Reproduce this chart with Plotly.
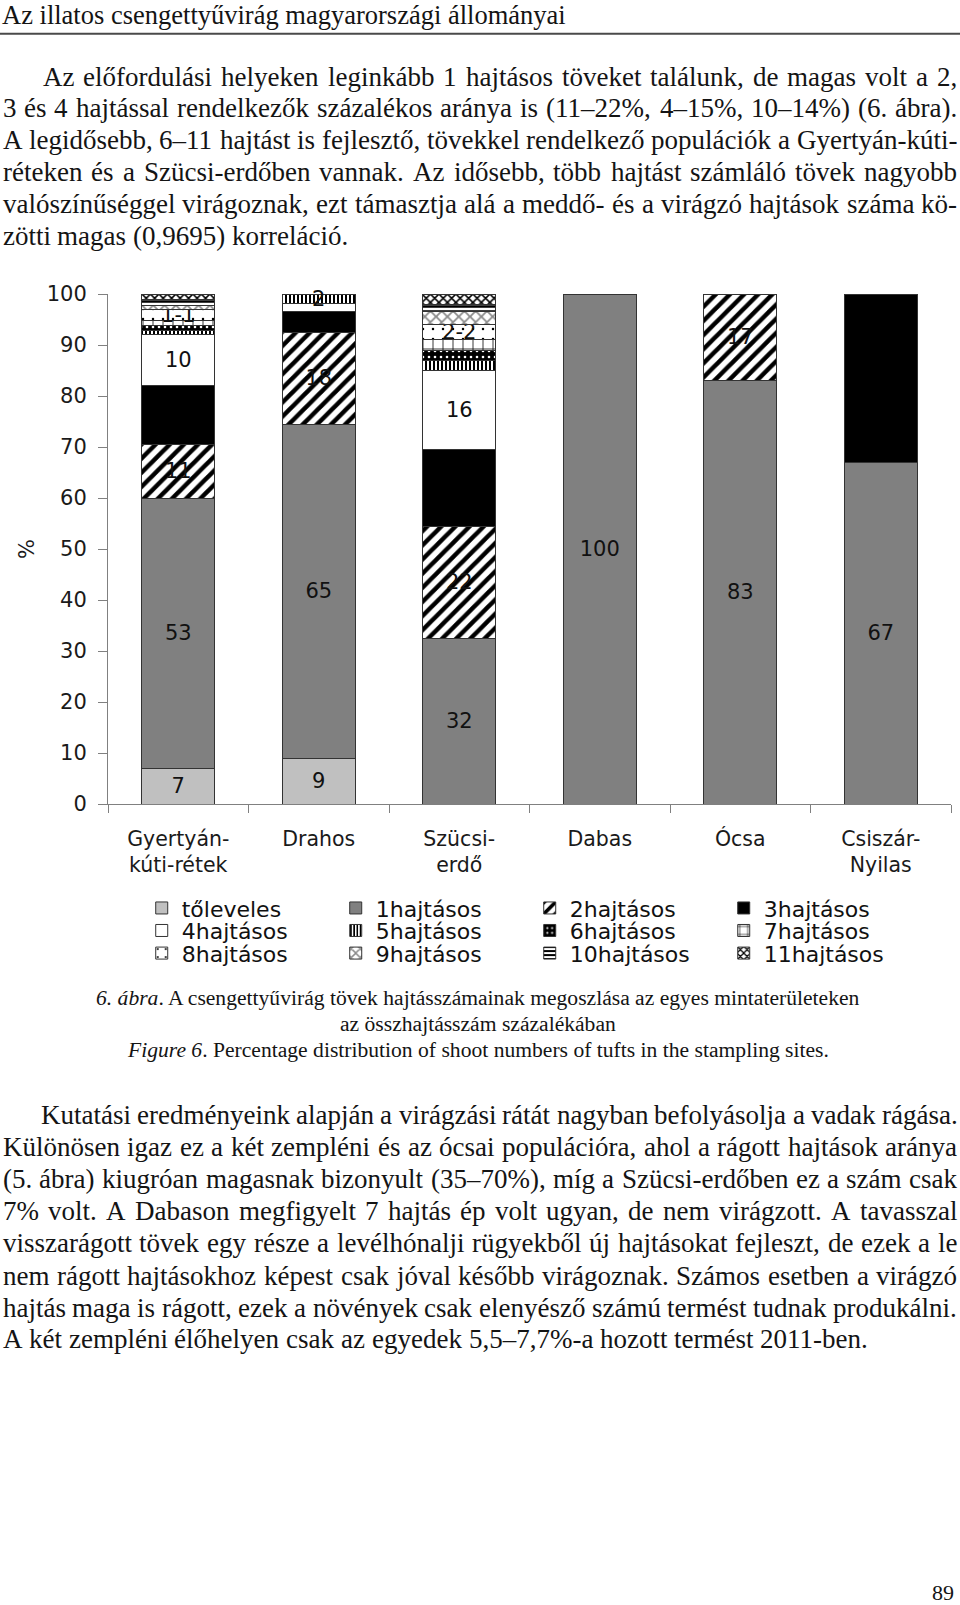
import unicodedata
import plotly.graph_objects as go

# ---------------- data ----------------
sites = ["Gyertyán-<br>kúti-rétek", "Drahos", "Szücsi-<br>erdő", "Dabas", "Ócsa", "Csiszár-<br>Nyilas"]

series_names = ["tőleveles", "1hajtásos", "2hajtásos", "3hajtásos", "4hajtásos", "5hajtásos",
                "6hajtásos", "7hajtásos", "8hajtásos", "9hajtásos", "10hajtásos", "11hajtásos"]

toleveles = [7,    9,    None, None, None, None]
hajtas_1  = [53,   65.5, 32.5, 100,  83,   67]
hajtas_2  = [10.5, 18,   22,   None, 17,   None]
hajtas_3  = [11.5, 4,    15,   None, None, 33]
hajtas_4  = [10,   1.6,  15.5, None, None, None]
hajtas_5  = [0.8,  1.9,  2,    None, None, None]
hajtas_6  = [1.1,  None, 2,    None, None, None]
hajtas_7  = [1.0,  None, 2,    None, None, None]
hajtas_8  = [2.1,  None, 3,    None, None, None]
hajtas_9  = [0.8,  None, 2.5,  None, None, None]
hajtas_10 = [1.2,  None, 1.5,  None, None, None]
hajtas_11 = [1.0,  None, 2,    None, None, None]

# data labels as printed on the chart
lab_tol = ["7", "9", "", "", "", ""]
lab_1   = ["53", "65", "32", "100", "83", "67"]
lab_2   = ["11", "18", "22", "", "17", ""]
lab_4   = ["10", "", "16", "", "", ""]
lab_5   = ["", "2", "", "", "", ""]
lab_8   = ["1-1", "", "2-2", "", "", ""]
lab_none = ["", "", "", "", "", ""]

y_ticks = [0, 10, 20, 30, 40, 50, 60, 70, 80, 90, 100]

values = [toleveles, hajtas_1, hajtas_2, hajtas_3, hajtas_4, hajtas_5,
          hajtas_6, hajtas_7, hajtas_8, hajtas_9, hajtas_10, hajtas_11]
labels = [lab_tol, lab_1, lab_2, lab_none, lab_4, lab_5,
          lab_none, lab_none, lab_8, lab_none, lab_none, lab_none]

# ---------------- texts ----------------
header = "Az illatos csengettyűvirág magyarországi állományai"
para1 = [
    "Az előfordulási helyeken leginkább 1 hajtásos töveket találunk, de magas volt a 2,",
    "3 és 4 hajtással rendelkezők százalékos aránya is (11–22%, 4–15%, 10–14%) (6. ábra).",
    "A legidősebb, 6–11 hajtást is fejlesztő, tövekkel rendelkező populációk a Gyertyán-kúti-",
    "réteken és a Szücsi-erdőben vannak. Az idősebb, több hajtást számláló tövek nagyobb",
    "valószínűséggel virágoznak, ezt támasztja alá a meddő- és a virágzó hajtások száma kö-",
    "zötti magas (0,9695) korreláció.",
]
para2 = [
    "Kutatási eredményeink alapján a virágzási rátát nagyban befolyásolja a vadak rágása.",
    "Különösen igaz ez a két zempléni és az ócsai populációra, ahol a rágott hajtások aránya",
    "(5. ábra) kiugróan magasnak bizonyult (35–70%), míg a Szücsi-erdőben ez a szám csak",
    "7% volt. A Dabason megfigyelt 7 hajtás ép volt ugyan, de nem virágzott. A tavasszal",
    "visszarágott tövek egy része a levélhónalji rügyekből új hajtásokat fejleszt, de ezek a le",
    "nem rágott hajtásokhoz képest csak jóval később virágoznak. Számos esetben a virágzó",
    "hajtás maga is rágott, ezek a növények csak elenyésző számú termést tudnak produkálni.",
    "A két zempléni élőhelyen csak az egyedek 5,5–7,7%-a hozott termést 2011-ben.",
]
caption = [
    "<i>6. ábra</i>. A csengettyűvirág tövek hajtásszámainak megoszlása az egyes mintaterületeken",
    "az összhajtásszám százalékában",
    "<i>Figure 6</i>. Percentage distribution of shoot numbers of tufts in the stampling sites.",
]

# ---------------- geometry (pixels) ----------------
W, H = 960, 1605
PL, PR, PT, PB = 108.3, 950.7, 294.0, 803.7

def px(x):
    return (x - PL) / (PR - PL)

def py(y):
    return (PB - y) / (PB - PT)

SERIF = "Liberation Serif, Times New Roman, serif"
SANS = "DejaVu Sans, Arial, sans-serif"
INK = "#141414"

# Times metrics (1/1000 em) for justification
_w = {}
_w.update(dict(zip("abcdefghijklmnopqrstuvwxyz",
                   [444, 500, 444, 500, 444, 333, 500, 500, 278, 278, 500, 278, 778,
                    500, 500, 500, 500, 333, 389, 278, 500, 500, 722, 500, 500, 444])))
_w.update(dict(zip("ABCDEFGHIJKLMNOPQRSTUVWXYZ",
                   [722, 667, 667, 722, 611, 556, 722, 722, 333, 389, 722, 611, 889,
                    722, 722, 556, 722, 667, 556, 611, 722, 722, 944, 722, 722, 611])))
_w.update({c: 500 for c in "0123456789"})
_w.update({" ": 250, ",": 250, ".": 250, "-": 333, "–": 500, "(": 333, ")": 333,
           "%": 833, ":": 278, ";": 278})

def tw(s, size):
    tot = 0
    for c in s:
        if c in _w:
            tot += _w[c]
        else:
            b = unicodedata.normalize("NFD", c)[0]
            tot += _w.get(b, 500)
    return tot / 1000.0 * size

annotations = []

def add_line(text, x0, x1, y, size, justify):
    words = text.split(" ")
    widths = [tw(w, size) for w in words]
    if justify and len(words) > 1:
        gap = (x1 - x0 - sum(widths)) / (len(words) - 1)
        gap = max(gap, 0.12 * size)
    else:
        gap = 0.25 * size
    x = x0
    for w, ww in zip(words, widths):
        annotations.append(dict(text=w, x=px(x), y=py(y), xref="paper", yref="paper",
                                xanchor="left", yanchor="middle", showarrow=False,
                                borderpad=0, borderwidth=0,
                                font=dict(family=SERIF, size=size, color=INK)))
        x += ww + gap

BODY = 27
# header
annotations.append(dict(text=header, x=px(2), y=py(0.5), xref="paper", yref="paper",
                        xanchor="left", yanchor="top", showarrow=False, borderpad=0,
                        borderwidth=0, font=dict(family=SERIF, size=26.5, color=INK)))
p1_y = [76.8, 108.5, 140.2, 172.0, 203.7, 236.0]
for i, (t, y) in enumerate(zip(para1, p1_y)):
    add_line(t, 43 if i == 0 else 3, 957, y, BODY, i < len(para1) - 1)
p2_y = [1114.6, 1146.3, 1178.0, 1210.8, 1242.5, 1275.3, 1307.0, 1338.7]
for i, (t, y) in enumerate(zip(para2, p2_y)):
    add_line(t, 41 if i == 0 else 3, 957, y, BODY, i < len(para2) - 1)

cap_y = [998.0, 1023.5, 1050.0]
for t, y in zip(caption, cap_y):
    annotations.append(dict(text=t, x=px(478), y=py(y), xref="paper", yref="paper",
                            xanchor="center", yanchor="middle", showarrow=False, borderpad=0,
                            borderwidth=0, font=dict(family=SERIF, size=21.6, color=INK)))
annotations.append(dict(text="89", x=px(942.5), y=py(1604.5), xref="paper", yref="paper",
                        xanchor="center", yanchor="bottom", showarrow=False, borderpad=0,
                        borderwidth=0, font=dict(family=SERIF, size=22, color=INK)))

# ---------------- styles ----------------
styles = [
    dict(color="#c0c0c0"),
    dict(color="#808080"),
    dict(pattern=dict(shape="/", fgcolor="#000000", bgcolor="#ffffff", size=10, solidity=0.45)),
    dict(color="#000000"),
    dict(color="#ffffff"),
    dict(pattern=dict(shape="|", fgcolor="#000000", bgcolor="#ffffff", size=4, solidity=0.5)),
    dict(pattern=dict(shape=".", fgcolor="#ffffff", bgcolor="#000000", size=6, solidity=0.15)),
    dict(pattern=dict(shape="+", fgcolor="#000000", bgcolor="#ffffff", size=10, solidity=0.15)),
    dict(pattern=dict(shape=".", fgcolor="#000000", bgcolor="#ffffff", size=10, solidity=0.05)),
    dict(pattern=dict(shape="x", fgcolor="#8a8a8a", bgcolor="#ffffff", size=8, solidity=0.4)),
    dict(pattern=dict(shape="-", fgcolor="#000000", bgcolor="#ffffff", size=5, solidity=0.5)),
    dict(pattern=dict(shape="x", fgcolor="#000000", bgcolor="#ffffff", size=6, solidity=0.45)),
]
legend_of = ["legend"] * 4 + ["legend2"] * 4 + ["legend3"] * 4

fig = go.Figure()
for name, vals, labs, st, lg in zip(series_names, values, labels, styles, legend_of):
    marker = dict(line=dict(color="#333333", width=1))
    if "pattern" in st:
        marker["color"] = st["pattern"]["bgcolor"]
        marker["pattern"] = dict(fillmode="replace", **st["pattern"])
    else:
        marker["color"] = st["color"]
    fig.add_trace(go.Bar(
        x=sites, y=vals, name=name, marker=marker, legend=lg,
        text=labs, textposition="inside", insidetextanchor="middle", textangle=0,
        constraintext="none", cliponaxis=False,
        insidetextfont=dict(family=SANS, size=21, color="#111111"),
        hoverinfo="skip",
    ))

legend_common = dict(orientation="h", xanchor="left", yanchor="middle",
                     entrywidth=149, entrywidthmode="pixels", traceorder="normal",
                     bgcolor="rgba(0,0,0,0)", borderwidth=0,
                     font=dict(family=SANS, size=22, color="#111111"))
LX = px(142)

fig.update_layout(
    width=W, height=H,
    margin=dict(l=PL, r=W - PR, t=PT, b=H - PB, autoexpand=False),
    paper_bgcolor="white", plot_bgcolor="white",
    barmode="stack", bargap=0.478,
    showlegend=True,
    legend=dict(x=LX, y=py(907.8), **legend_common),
    legend2=dict(x=LX, y=py(930.3), **legend_common),
    legend3=dict(x=LX, y=py(952.9), **legend_common),
    xaxis=dict(type="category", range=[-0.5, 5.5], tickson="boundaries", ticks="outside",
               ticklen=8, tickcolor="#808080", tickwidth=1, showline=True, linecolor="#808080",
               linewidth=1, showgrid=False, zeroline=False, ticklabelstandoff=16,
               tickfont=dict(family=SANS, size=20.5, color="#1a1a1a")),
    yaxis=dict(range=[0, 100], tickmode="array", tickvals=y_ticks, ticks="outside",
               ticklen=9, tickcolor="#808080", tickwidth=1, showline=True, linecolor="#808080",
               linewidth=1, showgrid=False, zeroline=False, ticklabelstandoff=7,
               tickfont=dict(family=SANS, size=21, color="#1a1a1a"),
               title=dict(text="%", standoff=6, font=dict(family=SANS, size=21, color="#1a1a1a"))),
    annotations=annotations,
    shapes=[dict(type="line", xref="paper", yref="paper", x0=px(0), x1=px(960),
                 y0=py(34), y1=py(34), line=dict(color="#4a4a4a", width=2))],
)

fig.write_html("out.html")
